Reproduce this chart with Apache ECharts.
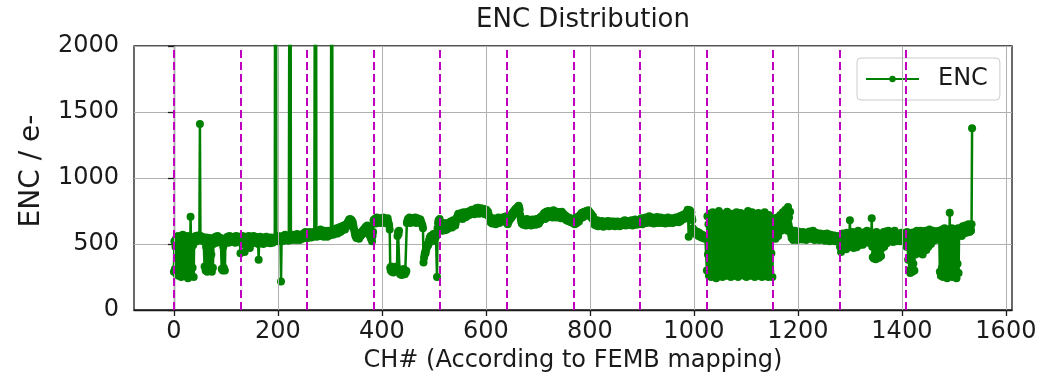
<!DOCTYPE html>
<html>
<head>
<meta charset="utf-8">
<script src="https://cdn.jsdelivr.net/npm/echarts@6/dist/echarts.min.js"></script>
<style>
  html, body { margin: 0; padding: 0; background: #ffffff; }
  #chart { width: 1042px; height: 378px; }
</style>
</head>
<body>
<div id="chart"></div>
<script>
// ENC per channel, one array per FEMB (128 channels each)
const femb0 = [
  290, 520, 310, 480, 540, 270, 500, 350, 560, 260, 530, 420, 300, 550, 250, 510,
  380, 570, 280, 490, 330, 540, 260, 520, 450, 300, 560, 240, 500, 370, 530, 280,
  707, 510, 260, 540, 320, 490, 250,
  540, 555, 530, 560, 545, 520, 550, 565, 540, 530, 555,
  1410,
  560, 545, 530, 555, 540, 520, 550,
  540, 330, 520, 300, 480, 550, 290, 500, 310, 530, 360, 545, 300, 510, 420, 290, 540, 320, 500, 530,
  545, 520, 555, 530, 510, 540, 560, 525, 515, 550, 535, 520, 545, 530,
  310, 520, 300, 480, 320, 540, 300, 510,
  530, 545, 520, 555, 535, 510, 540, 560, 525, 545, 515, 550, 530, 540, 520, 555,
  545, 530, 510, 540, 560, 535, 520, 550, 540, 525, 555, 530
];
const femb1 = [
  430,
  520, 545, 500, 560, 530, 515, 550, 440, 540, 525, 500, 555, 535, 510, 545, 560,
  520, 470, 540, 530, 550, 515, 505, 545, 560, 530, 520, 540, 555, 510, 535, 545, 525, 500,
  380,
  540, 520, 555, 530, 510, 545, 525, 535, 500, 550, 520, 540, 515, 530, 555, 525,
  510, 540, 530, 520, 545, 505, 535, 550, 520, 530, 510, 545, 535, 520, 540,
  4500, 4300,
  555, 545, 520, 560, 535, 550, 525, 540, 530,
  215,
  520, 545, 560, 535, 525, 555, 540, 570, 530, 550, 545, 560, 535, 525, 555, 540,
  4500, 4400,
  560, 530, 550, 570, 540, 555, 535, 565, 545, 550, 530, 560, 575, 545, 540,
  555, 565, 530, 550, 560, 545, 570, 540, 555, 580, 550, 545, 565, 590, 555, 570
];
const femb2 = [
  560, 545, 580, 555, 570, 590, 560, 575, 550, 585, 565, 575, 555, 590, 570, 580,
  4500, 4200,
  585, 555, 575, 600, 570, 560, 590, 575, 610, 580, 560, 595, 570, 585, 555,
  575, 600, 565, 580, 590, 570, 555, 585, 600, 575, 565, 590, 580, 570,
  4500, 4300,
  595, 570, 605, 585, 575, 610, 590, 600, 620, 595, 580, 615, 600, 625, 605,
  590, 630, 610, 600, 635, 615, 625, 640, 620, 610, 645, 630, 650, 635, 660,
  670, 655, 685, 665, 690, 675, 660, 680, 650, 665, 640, 620, 600,
  580, 560, 575, 545, 565, 550, 580, 560, 540, 570, 555, 585, 565, 590, 575, 600, 580, 610, 595, 620,
  600, 630, 610, 590, 640, 615, 600, 630, 580, 560, 600, 540, 575, 520, 560, 590
];
const femb3 = [
  680, 665, 690, 670, 655, 685, 700, 675, 660, 690, 680, 670, 695, 675, 660, 685,
  690, 665, 680, 700, 670, 660, 685, 675, 690, 665, 680, 695, 670, 655, 640, 610,
  320, 300, 330, 290, 310, 300, 285, 315, 300, 320, 295, 310, 330, 300,
  560, 590, 575, 600,
  290, 270, 305, 280, 265, 300, 285, 275, 310, 290, 270, 300, 285, 295,
  660, 675, 690, 665, 680, 700, 670, 660, 685, 675, 690, 695, 670, 680, 665, 690,
  700, 675, 660, 685, 695, 670, 680, 690, 665, 675, 685, 670, 660, 650, 640, 620,
  360, 395, 420, 440, 430, 455, 470, 485, 500, 490, 515, 530, 545, 555, 560,
  540, 565, 520, 550, 575, 530, 560, 545, 580, 555, 570,
  250,
  620, 660, 680, 650, 690
];
const femb4 = [
  630, 610, 650, 620, 600, 640, 615, 660, 630, 605, 625, 650, 635, 610, 660, 640,
  620, 655, 630, 645, 670, 635, 650, 625, 660, 680, 645, 655, 670, 640, 660, 685,
  700, 690, 715, 730, 705, 695, 720, 710, 700, 735, 715, 690, 725, 740, 710, 700,
  730, 720, 705, 740, 725, 715, 745, 730, 720, 750, 735, 725, 740, 760, 730, 745,
  755, 740, 725, 760, 745, 770, 750, 735, 760, 775, 745, 730, 765, 750, 740, 770,
  755, 735, 760, 745, 730, 765, 750, 725, 745, 760, 735, 720, 745, 730, 710, 700,
  680, 665, 690, 670, 655, 680, 695, 670, 660, 685, 675, 650, 670, 690, 665, 680,
  700, 675, 660, 690, 680, 670, 695, 685, 700, 690, 675, 690, 705, 680, 695, 710
];
const femb5 = [
  660, 675, 650, 690, 670, 700, 685, 710, 695, 720, 705, 735, 715, 745, 730, 755,
  740, 765, 750, 770, 760, 780, 765, 790, 775, 760,
  720, 690, 670, 655, 680, 660, 645, 670, 650, 685, 660, 640, 665, 690, 655, 675,
  645, 660, 680, 650, 670, 640, 665, 685, 655, 670, 650, 680, 660, 645, 675, 690,
  665, 650, 680, 670, 655, 685, 700, 675, 690, 710, 695, 705,
  720, 700, 735, 710, 690, 725, 745, 715, 700, 730, 750, 720, 705, 740, 725, 710,
  745, 730, 700, 720, 755, 735, 715, 740, 725, 700, 730, 745, 715, 705, 735, 720,
  740, 710, 695, 725, 745, 715, 700, 730, 720, 705, 690, 715, 700, 680, 705, 690,
  675, 700, 685, 670, 695, 680, 665, 690, 675, 660
];
const femb6 = [
  665, 690, 670, 650, 680, 700, 675, 660, 690, 705, 680, 670, 700, 720, 695, 710,
  735, 715, 700, 740, 725, 710, 745, 730, 715, 750, 735, 720, 740, 755, 730, 715,
  740, 720, 705, 725, 700, 690, 710, 685,
  660, 645, 670, 655, 640, 665, 680, 650, 635, 660, 670, 655, 640, 665, 650, 675,
  660, 645, 630, 655, 665, 650, 640, 670, 655, 645, 660, 675, 650, 635, 655, 665,
  645, 670, 650, 640, 660, 655, 670, 645, 635, 650, 665, 640, 655, 670, 650, 645,
  660, 635, 650, 665, 640, 655, 670, 660, 645, 650, 665, 680, 655, 640, 660, 675,
  650, 665, 645, 655, 670, 660, 645, 665, 680, 655, 640, 660, 670, 650, 665, 685,
  660, 645, 670, 655, 680, 665, 650, 675
];
const femb7 = [
  670, 655, 680, 695, 665, 650, 680, 690, 670, 660, 685, 700, 675, 660, 690, 680,
  665, 695, 710, 680, 665, 690, 675, 660, 685, 700, 670, 655, 680, 695, 675, 660,
  690, 705, 680, 665, 690, 675, 660, 685, 700, 680, 665, 690, 675, 660, 680, 695,
  670, 655, 675, 690, 665, 680, 700, 685, 660, 675, 690, 665, 680, 695, 670, 660,
  685, 675, 690, 665, 680, 700, 690, 670, 685, 700, 680, 665, 695, 710, 690, 675,
  700, 715, 695, 720, 705, 690, 725, 710, 700, 735,
  720, 745, 760, 700, 555, 730, 755, 710, 690, 740, 700, 680,
  620, 600, 585, 605, 590, 575, 595, 580, 570, 590, 575, 560, 585, 570, 555, 575,
  565, 550, 570, 560, 545, 565, 555, 540, 560, 550
];
const femb8 = [
  560, 300, 710, 420, 650, 260, 730, 380, 600, 250, 690, 450, 740, 310, 580, 270,
  720, 400, 660, 240, 700, 350, 620, 280, 750, 430, 570, 260, 710, 330, 640, 250,
  730, 390, 590, 290, 700, 440, 660, 260, 745, 320, 610, 270, 690, 410, 720, 250,
  580, 360, 730, 280, 650, 430, 700, 260, 620, 340, 740, 300, 670, 250, 710, 390,
  600, 270, 735, 420, 650, 280, 720, 340, 580, 260, 700, 450, 690, 250, 630, 370,
  750, 290, 660, 410, 710, 260, 600, 330, 740, 280, 680, 430, 720, 250, 640, 360,
  700, 270, 610, 400, 735, 260, 670, 320, 720, 440, 590, 250, 710, 350, 650, 280,
  740, 410, 600, 260, 700, 330, 680, 250, 720, 380, 640, 290, 700, 430, 560, 250
];
const femb9 = [
  580, 640, 560, 690, 600, 540, 660, 580, 700, 620, 560, 680, 600, 650, 720, 640,
  600, 700, 660, 740, 680, 620, 710, 650, 760, 690, 640, 720, 600, 780, 650, 700,
  620, 745, 600,
  570, 545, 590, 560, 530, 575, 555, 600, 565, 540, 580, 555, 530, 570, 595, 560,
  545, 575, 550, 585, 560, 535, 570, 590, 555, 540, 565, 580, 550, 530, 560, 585,
  545, 570, 555, 595, 565, 540, 575, 560, 545, 580, 600, 565, 550, 530, 570, 555,
  585, 560, 540, 565, 575, 550, 530, 560, 580, 545, 570, 555, 535, 560, 545, 575,
  550, 525, 565, 540, 555, 580, 550, 535, 560, 545, 520, 555, 570, 540, 530, 560,
  545, 525, 550, 565, 535, 520, 545, 560, 530, 550, 540, 525, 555
];
const femb10 = [
  520, 480, 560, 440, 545, 500, 580, 470, 530, 555, 490, 570, 520, 460, 585, 540,
  505, 565, 480, 550, 680, 530, 575, 500, 545, 590, 520, 470, 560, 535, 585, 510,
  550, 475, 570, 540, 600, 525, 490, 565, 545, 505, 580, 530, 560, 495, 575, 540,
  515, 590, 555, 520, 570, 600, 535, 560, 510, 580, 545, 590, 560, 530, 695, 480,
  400, 575, 390, 560, 420, 545, 385, 590, 430, 550, 400, 580, 395, 565, 445, 540,
  410, 575, 470, 555, 520, 590, 480, 560, 530, 595, 545, 505, 575, 535, 600, 560,
  520, 585, 550, 570, 530, 590, 545, 515, 575, 555, 600, 535, 565, 520, 580, 545,
  560, 530, 575, 550, 520, 565, 540, 585, 555, 530, 570, 545, 520, 560, 535, 575
];
const femb11 = [
  560, 480, 590, 520, 380, 575, 300, 560, 280, 540, 310, 585, 290, 570, 350, 530,
  300, 590, 420, 555, 480, 600, 440, 570, 520, 590, 430, 560, 600, 470, 575, 540,
  420, 595, 560, 450, 585, 530, 600, 455, 570, 545, 590, 480, 560, 610, 530, 575,
  500, 590, 555, 520, 600, 570, 540, 585, 560, 530, 595, 575, 550, 580, 560, 600,
  540, 290, 600, 260, 580, 320, 610, 250, 560, 380, 620, 270, 590, 300, 600, 240,
  570, 350, 610, 260, 737, 280, 590, 330, 620, 250, 600, 400, 580, 260, 610, 300,
  570, 240, 600, 350, 620, 280, 590, 600, 575, 620, 590, 560, 610, 635, 600, 580,
  620, 595, 640, 610, 585, 630, 605, 625, 650, 610, 590, 630, 615, 600, 650, 1376
];

// FEMB boundaries (dashed) and axis tick values
const fembEdges = [0, 128, 256, 384, 512, 640, 768, 896, 1024, 1152, 1280, 1408];
const xTicks = [0, 200, 400, 600, 800, 1000, 1200, 1400, 1600];

const enc = [].concat(femb0, femb1, femb2, femb3, femb4, femb5,
                      femb6, femb7, femb8, femb9, femb10, femb11);
const encData = enc.map((v, ch) => [ch, v]);

const FONT = 'DejaVu Sans';
const INK = '#1a1a1a';
const plain = v => String(v);

const chart = echarts.init(document.getElementById('chart'), null, { renderer: 'canvas' });

chart.setOption({
  animation: false,
  backgroundColor: '#ffffff',
  title: {
    text: 'ENC Distribution',
    left: 578,
    top: 2,
    textAlign: 'center',
    textStyle: { fontFamily: FONT, fontSize: 26, fontWeight: 'normal', color: INK }
  },
  grid: {
    left: 134, right: 30, top: 46, bottom: 68,
    show: true, borderColor: INK, borderWidth: 1.3, backgroundColor: 'transparent'
  },
  legend: {
    data: ['ENC'],
    left: 857, top: 58,
    padding: [9, 12, 9, 8],
    itemWidth: 53, itemHeight: 8,
    borderColor: '#cccccc', borderWidth: 1, borderRadius: 4,
    backgroundColor: 'rgba(255,255,255,0.8)',
    textStyle: { fontFamily: FONT, fontSize: 24, color: INK, padding: [0, 0, 0, 14] }
  },
  graphic: [
    {
      type: 'text', x: 32, y: 171, rotation: Math.PI / 2, silent: true,
      style: {
        text: 'ENC / e-', fontFamily: FONT, fontSize: 28, fill: INK,
        align: 'center', verticalAlign: 'middle'
      }
    }
  ],
  xAxis: {
    type: 'value',
    min: -76.75, max: 1611.75,
    name: 'CH# (According to FEMB mapping)',
    nameLocation: 'middle', nameGap: 34,
    nameTextStyle: { fontFamily: FONT, fontSize: 24, color: INK },
    axisLine: { show: true, onZero: false, lineStyle: { color: INK, width: 1.3 } },
    axisTick: { show: true, length: 6, customValues: xTicks, lineStyle: { color: INK, width: 1.3 } },
    axisLabel: { customValues: xTicks, formatter: plain, margin: 10, fontFamily: FONT, fontSize: 24, color: INK },
    splitLine: { show: false }
  },
  yAxis: {
    type: 'value',
    min: 0, max: 2000, interval: 500,
    axisLine: { show: true, lineStyle: { color: INK, width: 1.3 } },
    axisTick: { show: true, length: 6, lineStyle: { color: INK, width: 1.3 } },
    axisLabel: { formatter: plain, margin: 15, fontFamily: FONT, fontSize: 24, color: INK },
    splitLine: { show: true, lineStyle: { color: '#b0b0b0', width: 1 } }
  },
  series: [
    {
      name: 'xgrid', type: 'line', data: [], z: 1, silent: true,
      markLine: {
        silent: true, symbol: 'none', label: { show: false },
        lineStyle: { color: '#b0b0b0', width: 1, type: 'solid' },
        data: xTicks.map(v => ({ xAxis: v }))
      }
    },
    {
      name: 'ENC', type: 'line', data: encData, z: 3,
      symbol: 'circle', symbolSize: 8, showAllSymbol: true, sampling: null,
      itemStyle: { color: '#008000' },
      lineStyle: { color: '#008000', width: 2.5 },
      clip: true
    },
    {
      name: 'femb', type: 'line', data: [], z: 5, silent: true,
      markLine: {
        silent: true, symbol: 'none', label: { show: false },
        lineStyle: { color: '#bf00bf', width: 2, type: [8, 4] },
        data: fembEdges.map(v => ({ xAxis: v }))
      }
    }
  ]
});
</script>
</body>
</html>
